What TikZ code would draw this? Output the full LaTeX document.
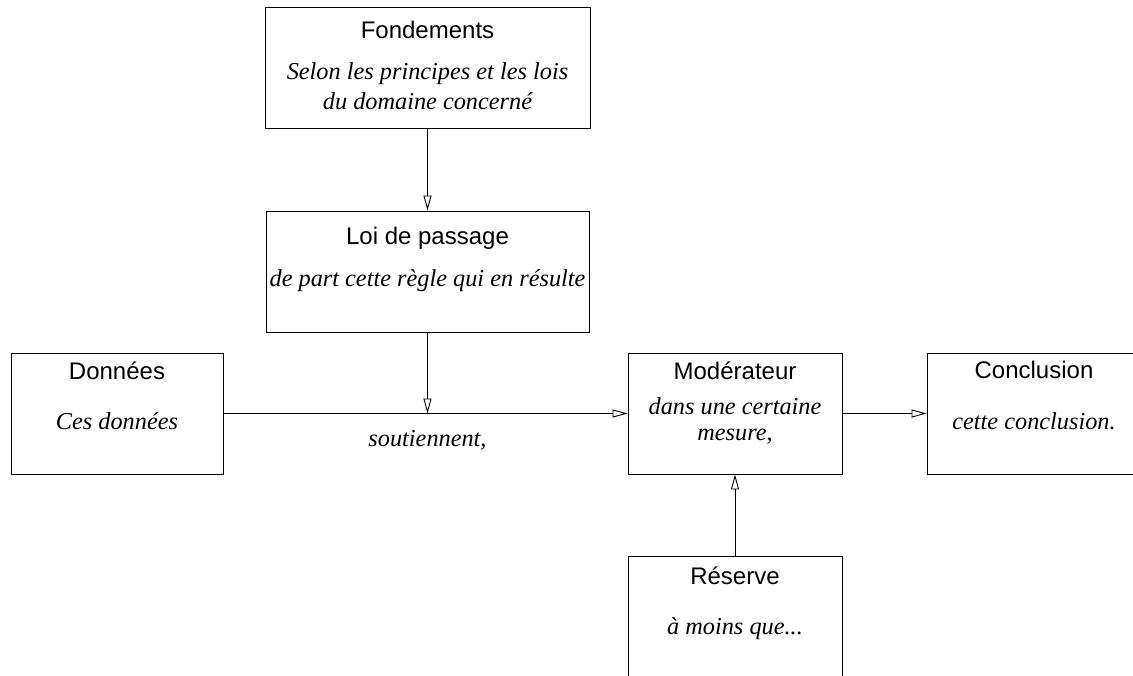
\documentclass[tikz,border=0pt]{standalone}
\usepackage{fontspec}
\setmainfont{Liberation Serif}
\setsansfont{Liberation Sans}
\usetikzlibrary{arrows.meta,calc}

\begin{document}
\begin{tikzpicture}[x=1pt,y=-1pt,line width=.9pt,
		box/.style={draw,inner sep=0pt,minimum height=121pt},
		titre/.style={anchor=base,font=\sffamily\fontsize{24}{28}\selectfont},
		texte/.style={anchor=base,font=\itshape\fontsize{24.3}{28}\selectfont},
		fleche/.style={-{Triangle[open,length=15pt,width=8pt]}}]
		\useasboundingbox (0,0) rectangle (1133,675);
		\clip (0,0) rectangle (1133,675);
		\path (427.5,67.5) node[box,minimum width=325pt] (fond) {}
			(427.5,271.5) node[box,minimum width=323pt] (loi) {}
			(117,413.5) node[box,minimum width=212pt] (don) {}
			(735,413.5) node[box,minimum width=214pt] (mod) {}
			(1034,413.5) node[box,minimum width=214pt] (concl) {}
			(735,616.5) node[box,minimum width=214pt] (res) {};
		\path (loi.south |- don.east) coordinate (S);
		\foreach \n/\y/\t in {fond/32/Fondements, loi/34/Loi de passage, don/27/Données, mod/27/Modérateur, concl/26/Conclusion, res/29/Réserve}
			\node[titre] at ($(\n.north)+(0,\y)$) {\t};
		\foreach \n/\y/\t in {fond/73/Selon les principes et les lois, fond/103/du domaine concerné, loi/76/de part cette règle qui en résulte, don/77/Ces données, mod/62/dans une certaine, mod/88/{mesure,}, concl/77/cette conclusion., res/79/{à moins que...}}
			\node[texte] at ($(\n.north)+(0,\y)$) {\t};
		\node[texte] (sout) at ($(S)+(0,32.5)$) {soutiennent,};
		\draw[fleche] (fond) -- (loi);
		\draw[fleche] (loi) -- (S);
		\draw[fleche] (don) -- (mod);
		\draw[fleche] (mod) -- (concl);
		\draw[fleche] (res) -- (mod);
	\end{tikzpicture}
\end{document}
